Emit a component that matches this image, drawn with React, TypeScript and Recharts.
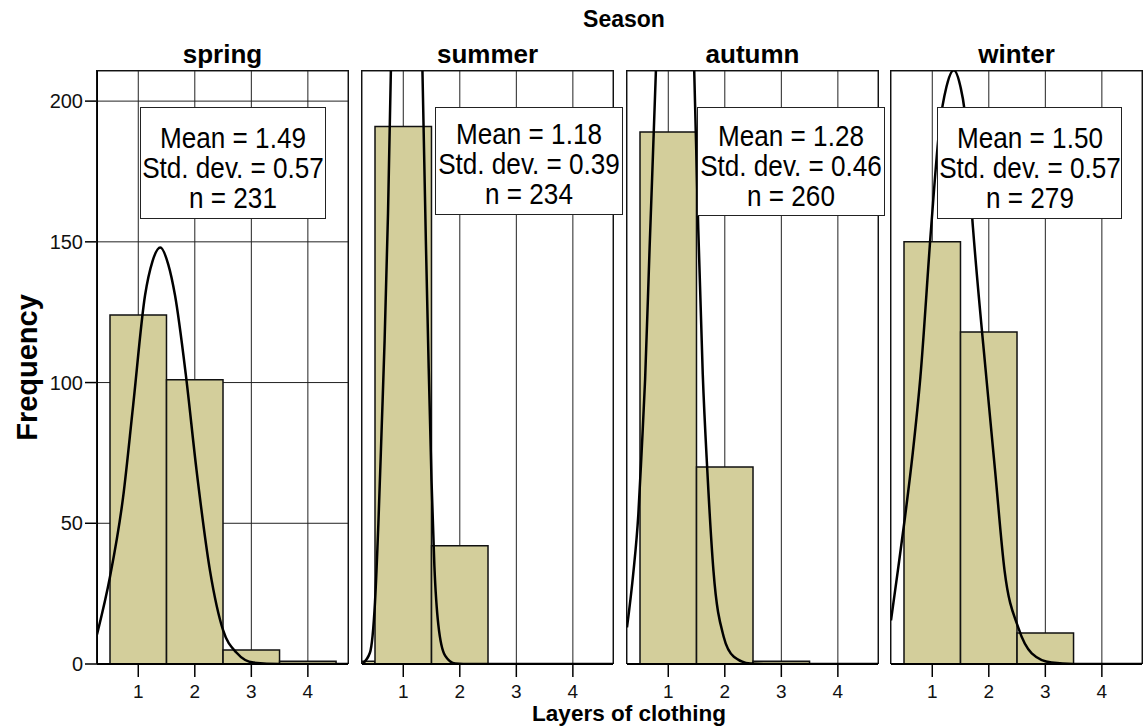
import React from 'react';
import { ComposedChart, Bar, Line, XAxis, YAxis, CartesianGrid } from 'recharts';

// --- data ---
const seasons = ['spring', 'summer', 'autumn', 'winter'];
const layers = [0, 1, 2, 3, 4];
const springCounts = [0, 124, 101, 5, 1];
const summerCounts = [1, 191, 42, 0, 0];
const autumnCounts = [0, 189, 70, 1, 0];
const winterCounts = [0, 150, 118, 11, 0];

const means = ['1.49', '1.18', '1.28', '1.50'];
const stdDevs = ['0.57', '0.39', '0.46', '0.57'];
const sampleSizes = [231, 234, 260, 279];

const xTicks = [1, 2, 3, 4];
const yTicks = [0, 50, 100, 150, 200];

// fitted normal curves as drawn: [layers, frequency]
const springCurve = [
  [0.27, 10.5], [0.5, 31], [0.73, 59], [0.91, 92], [1.12, 131], [1.25, 143], [1.39, 148],
  [1.53, 142], [1.65, 131], [1.84, 103], [2.03, 69], [2.27, 33], [2.5, 12], [2.74, 4],
  [3.04, 0.5], [3.5, 0], [4.71, 0],
];
const summerCurve = [
  [0.27, 0], [0.41, 4], [0.5, 22], [0.56, 50], [0.62, 85], [0.67, 115], [0.73, 160],
  [0.78, 210], [0.9, 370], [1.06, 500], [1.2, 380], [1.34, 210], [1.4, 150], [1.45, 105],
  [1.5, 65], [1.55, 35], [1.62, 14], [1.74, 3], [1.92, 0.2], [2.2, 0], [4.71, 0],
];
const autumnCurve = [
  [0.27, 13], [0.38, 32], [0.47, 53], [0.53, 76], [0.59, 101], [0.67, 148], [0.78, 210],
  [0.95, 330], [1.12, 380], [1.29, 330], [1.46, 210], [1.53, 155], [1.61, 103], [1.69, 69],
  [1.8, 33], [1.98, 9.7], [2.16, 2.6], [2.45, 0.2], [2.8, 0], [4.71, 0],
];
const winterCurve = [
  [0.27, 15.5], [0.39, 33], [0.51, 51], [0.655, 75], [0.79, 102], [0.98, 155], [1.13, 191],
  [1.25, 205], [1.38, 211], [1.5, 205], [1.57, 197], [1.72, 155], [1.96, 101], [2.11, 69],
  [2.28, 33], [2.52, 13], [2.76, 3.8], [3.11, 0.5], [3.5, 0], [4.71, 0],
];

const allCounts = [springCounts, summerCounts, autumnCounts, winterCounts];
const allCurves = [springCurve, summerCurve, autumnCurve, winterCurve];

// --- layout ---
const PLOT_LEFTS = [97, 362, 627, 891];
const PLOT_W = 251;
const PLOT_TOP = 71;
const PLOT_H = 593;
const X_MIN = 0.27;
const X_MAX = 4.71;
const Y_MAX = 210.7;
const X_AXIS_H = 50;
const M = 2;
const BAR_FILL = '#d3ce9b';
// a hair under one unit, otherwise recharts shrinks the bars to 90%
const BAR_W = PLOT_W / (X_MAX - X_MIN) - 0.05;

const boxLayout = [
  { left: 140, top: 107, width: 186, height: 112, pad: 14.6 },
  { left: 435, top: 107, width: 188, height: 108, pad: 11.3 },
  { left: 697, top: 107, width: 188, height: 109, pad: 12.6 },
  { left: 937, top: 107, width: 185, height: 112, pad: 14.6 },
];

const Panel: React.FC<{ index: number }> = ({ index }) => {
  const first = index === 0;
  const yW = first ? 50 : 0;
  const left = PLOT_LEFTS[index];
  const data = layers.map((x, i) => ({ x, count: allCounts[index][i] }));
  const curve = allCurves[index].map(([x, y]) => ({ x, y }));

  return (
    <>
      <div style={{ position: 'absolute', left: left - yW - M, top: PLOT_TOP - M }}>
        <ComposedChart
          width={M + yW + PLOT_W + M}
          height={M + PLOT_H + X_AXIS_H}
          data={data}
          barGap={0}
          margin={{ top: M, right: M, bottom: 0, left: M }}
        >
          <CartesianGrid stroke="#222" strokeWidth={1} />
          <XAxis
            dataKey="x"
            type="number"
            domain={[X_MIN, X_MAX]}
            ticks={xTicks}
            interval={0}
            allowDataOverflow
            height={X_AXIS_H}
            tickSize={13}
            tickMargin={8}
            axisLine={{ stroke: '#000', strokeWidth: 2 }}
            tickLine={{ stroke: '#000', strokeWidth: 1.5 }}
            tick={{ fontSize: 19, fill: '#111' }}
          />
          <XAxis
            xAxisId="curve"
            dataKey="x"
            type="number"
            domain={[X_MIN, X_MAX]}
            allowDataOverflow
            hide
          />
          <YAxis
            type="number"
            domain={[0, Y_MAX]}
            ticks={yTicks}
            interval={0}
            allowDataOverflow
            width={yW}
            tickSize={12}
            tickMargin={2}
            axisLine={first ? { stroke: '#000', strokeWidth: 2 } : false}
            tickLine={first ? { stroke: '#000', strokeWidth: 1.5 } : false}
            tick={first ? { fontSize: 20, fill: '#111' } : false}
          />
          <Bar
            dataKey="count"
            fill={BAR_FILL}
            stroke="#111"
            strokeWidth={1.5}
            barSize={BAR_W}
            isAnimationActive={false}
          />
          <Line
            xAxisId="curve"
            data={curve}
            dataKey="y"
            type="monotone"
            stroke="#000"
            strokeWidth={2.5}
            dot={false}
            activeDot={false}
            isAnimationActive={false}
          />
        </ComposedChart>
      </div>
      <div
        style={{
          position: 'absolute',
          left: left - 1,
          top: PLOT_TOP - 1,
          width: PLOT_W + 2,
          height: PLOT_H + 1,
          boxSizing: 'border-box',
          border: '1.5px solid #111',
          borderBottom: 'none',
          pointerEvents: 'none',
        }}
      />
    </>
  );
};

const StatsBox: React.FC<{ index: number }> = ({ index }) => {
  const b = boxLayout[index];
  const lines = [`Mean = ${means[index]}`, `Std. dev. = ${stdDevs[index]}`, `n = ${sampleSizes[index]}`];
  const inner = 300;
  return (
    <div
      style={{
        position: 'absolute',
        left: b.left,
        top: b.top,
        width: b.width,
        height: b.height,
        boxSizing: 'border-box',
        border: '1px solid #222',
        background: '#fff',
        paddingTop: b.pad,
        fontSize: 30,
        lineHeight: '30px',
        color: '#000',
      }}
    >
      {lines.map((t) => (
        <div
          key={t}
          style={{
            width: inner,
            marginLeft: (b.width - 2 - inner) / 2,
            textAlign: 'center',
            transform: 'scaleX(0.87)',
            whiteSpace: 'nowrap',
          }}
        >
          {t}
        </div>
      ))}
    </div>
  );
};

export default function App() {
  return (
    <div
      style={{
        position: 'absolute',
        left: 0,
        top: 0,
        width: 1143,
        height: 728,
        overflow: 'hidden',
        background: '#fff',
        fontFamily: '"Liberation Sans", Arial, sans-serif',
      }}
    >
      <svg width={1143} height={728} style={{ position: 'absolute', left: 0, top: 0 }}>
        <text x={624} y={27} textAnchor="middle" fontSize={23} fontWeight="bold" fill="#000">Season</text>
        {seasons.map((s, i) => (
          <text key={s} x={PLOT_LEFTS[i] + PLOT_W / 2} y={63} textAnchor="middle" fontSize={26} fontWeight="bold" fill="#000">
            {s}
          </text>
        ))}
        <text x={629} y={721} textAnchor="middle" fontSize={22.5} fontWeight="bold" fill="#000">Layers of clothing</text>
        <text x={37} y={367.5} transform="rotate(-90, 37, 367.5)" textAnchor="middle" fontSize={29} fontWeight="bold" fill="#000">
          Frequency
        </text>
      </svg>
      {seasons.map((s, i) => <Panel key={s} index={i} />)}
      {seasons.map((s, i) => <StatsBox key={s} index={i} />)}
    </div>
  );
}
